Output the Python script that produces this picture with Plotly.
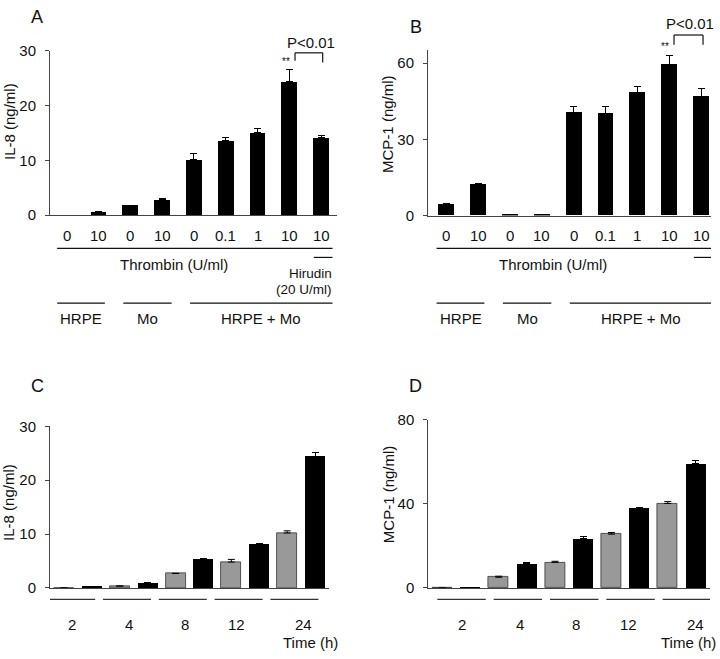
import plotly.graph_objects as go

W, H = 720, 659
FONT = "Liberation Sans, Arial, sans-serif"
INK = "#111111"
AX = "#444444"

# ---------------- data ----------------
thrombin_labels = ["0", "10", "0", "10", "0", "0.1", "1", "10", "10"]
group_labels = ["HRPE", "Mo", "HRPE + Mo"]
il8_a = [0, 0.7, 1.85, 2.8, 10.2, 13.55, 15.0, 24.4, 14.15]
il8_a_err = [0, 0, 0, 0.3, 1.05, 0.55, 0.75, 2.1, 0.35]
mcp1_b = [4.6, 12.1, 0.5, 0.5, 40.7, 40.3, 48.3, 59.3, 46.9]
mcp1_b_err = [0.3, 0.5, 0, 0, 2.3, 2.7, 2.5, 3.8, 2.9]

time_labels = ["2", "4", "8", "12", "24"]
il8_c_gray = [0, 0.36, 2.7, 4.8, 10.2]
il8_c_gray_err = [0, 0, 0, 0.5, 0.4]
il8_c_black = [0.15, 0.9, 5.3, 8.1, 24.4]
il8_c_black_err = [0, 0.2, 0.1, 0.2, 0.7]
mcp1_d_gray = [0, 5.1, 12.2, 25.6, 40.2]
mcp1_d_gray_err = [0, 0.5, 0.5, 0.8, 0.9]
mcp1_d_black = [0.46, 11.6, 23.3, 38.0, 59.2]
mcp1_d_black_err = [0, 0.6, 1.3, 0.5, 1.5]


def PX(x):
    return x / W


def PY(y):
    return 1 - y / H


fig = go.Figure()


def err(arr):
    return dict(type="data", symmetric=False, array=arr, arrayminus=[0] * len(arr),
                color="black", thickness=1, width=3.5)


# Panels A / B
idx9 = list(range(len(thrombin_labels)))
fig.add_trace(go.Bar(x=idx9, y=il8_a, error_y=err(il8_a_err), width=0.5,
                     marker=dict(color="black", line=dict(width=0)),
                     xaxis="x", yaxis="y", showlegend=False))
fig.add_trace(go.Bar(x=idx9, y=mcp1_b, error_y=err(mcp1_b_err), width=0.5,
                     marker=dict(color="black", line=dict(width=0)),
                     xaxis="x2", yaxis="y2", showlegend=False))

# Panels C / D
gx = [2 * i for i in range(len(time_labels))]
bx = [2 * i + 1 for i in range(len(time_labels))]
GRAY = "#999999"
fig.add_trace(go.Bar(x=gx, y=il8_c_gray, error_y=err(il8_c_gray_err), width=0.72,
                     marker=dict(color=GRAY, line=dict(color="#333333", width=0.8)),
                     xaxis="x3", yaxis="y3", showlegend=False))
fig.add_trace(go.Bar(x=bx, y=il8_c_black, error_y=err(il8_c_black_err), width=0.72,
                     marker=dict(color="black", line=dict(width=0)),
                     xaxis="x3", yaxis="y3", showlegend=False))
fig.add_trace(go.Bar(x=gx, y=mcp1_d_gray, error_y=err(mcp1_d_gray_err), width=0.71,
                     marker=dict(color=GRAY, line=dict(color="#333333", width=0.8)),
                     xaxis="x4", yaxis="y4", showlegend=False))
fig.add_trace(go.Bar(x=bx, y=mcp1_d_black, error_y=err(mcp1_d_black_err), width=0.71,
                     marker=dict(color="black", line=dict(width=0)),
                     xaxis="x4", yaxis="y4", showlegend=False))


def xax(dom, rng, anchor):
    return dict(domain=[PX(dom[0]), PX(dom[1])], range=rng, anchor=anchor,
                showline=True, linecolor=AX, linewidth=1, showgrid=False,
                zeroline=False, ticks="", showticklabels=False, fixedrange=True)


def yax(dom, rng, dtick, anchor):
    return dict(domain=[PY(dom[0]), PY(dom[1])], range=rng, anchor=anchor,
                showline=True, linecolor=AX, linewidth=1, showgrid=False,
                zeroline=False, ticks="outside", ticklen=4, tickcolor=AX,
                dtick=dtick, tick0=0, ticklabelstandoff=6,
                tickfont=dict(family=FONT, size=15, color=INK), fixedrange=True)


fig.update_layout(
    width=W, height=H, margin=dict(l=0, r=0, t=0, b=0),
    paper_bgcolor="white", plot_bgcolor="white", bargap=0,
    xaxis=xax([50, 337], [-0.525, 8.5], "y"),
    yaxis=yax([211.7, 42.7], [0, 30], 10, "x"),
    xaxis2=xax([428, 711], [-0.57, 8.31], "y2"),
    yaxis2=yax([212, 42.4], [0, 65], 30, "x2"),
    xaxis3=xax([50, 329], [-0.5, 9.5], "y3"),
    yaxis3=yax([594.3, 428.3], [0, 30], 10, "x3"),
    xaxis4=xax([428.3, 710], [-0.5, 9.5], "y4"),
    yaxis4=yax([594.3, 421.7], [0, 80], 40, "x4"),
)

ann = []
shapes = []


def text(x, y, s, size=15, xref="paper", xanchor="center", angle=0):
    ann.append(dict(x=x, y=PY(y), xref=xref, yref="paper", text=s, showarrow=False,
                    xanchor=xanchor, yanchor="middle", textangle=angle,
                    font=dict(family=FONT, size=size, color=INK)))


def hline(x0, x1, y, xref="paper", color=INK, width=1.2):
    shapes.append(dict(type="line", xref=xref, yref="paper", x0=x0, x1=x1,
                       y0=PY(y), y1=PY(y), line=dict(color=color, width=width)))


def vline(x, y0, y1, xref="paper"):
    shapes.append(dict(type="line", xref=xref, yref="paper", x0=x, x1=x,
                       y0=PY(y0), y1=PY(y1), line=dict(color=INK, width=1.2)))


# Panels A and B: labels below the axis
group_spans = [(-0.3, 1.2), (1.78, 3.3), (3.88, 8.36)]
for xr in ["x", "x2"]:
    for i, lab in enumerate(thrombin_labels):
        text(i, 233, lab, 15, xref=xr)
    hline(-0.3, 8.36, 245.7, xref=xr)
    text(3.36, 262, "Thrombin (U/ml)", 15, xref=xr)
    hline(7.77, 8.36, 255, xref=xr)
    text(8.42, 272, "Hirudin", 13.5, xref=xr, xanchor="right")
    text(8.42, 288, "(20 U/ml)", 13.5, xref=xr, xanchor="right")
    for (a, b), lab in zip(group_spans, group_labels):
        hline(a, b, 302, xref=xr)
        text((a + b) / 2, 318, lab, 15, xref=xr)

# significance brackets
for xr, (xl, xrt), yb, yl, yr, ptxt, star in [
        ("x", (7.18, 8.05), 45, 53, 55, (7.68, 34), (286, 54)),
        ("x2", (7.15, 8.06), 26.7, 36.7, 36.7, (7.66, 15), (665, 38))]:
    hline(xl, xrt, yb, xref=xr)
    vline(xl, yb, yl, xref=xr)
    vline(xrt, yb, yr, xref=xr)
    text(ptxt[0], ptxt[1], "P<0.01", 15, xref=xr)
    text(PX(star[0]), star[1], "**", 10)

# Panels C and D: time groups
label_off = [0.88, 0.92, 0.93, 0.77, 1.18]
for xr, shift, tx in [("x3", -0.6, 340), ("x4", -0.18, 718)]:
    for g, lab in enumerate(time_labels):
        s = 2 * g + shift
        hline(s, s + 1.72, 606, xref=xr, color="#333333", width=1.2)
        text(s + label_off[g], 631.7, lab, 15, xref=xr)
    text(PX(tx), 650, "Time (h)", 15, xanchor="right")

# panel letters
for s, x, y in [("A", 37, 8), ("B", 416, 18), ("C", 37, 387), ("D", 416, 387)]:
    text(PX(x), y, s, 18)

# y titles
text(PX(9), 116, "IL-8 (ng/ml)", 15, angle=-90)
text(PX(388), 118, "MCP-1 (ng/ml)", 15, angle=-90)
text(PX(9), 507, "IL-8 (ng/ml)", 15, angle=-90)
text(PX(388), 498, "MCP-1 (ng/ml)", 15, angle=-90)

fig.update_layout(annotations=ann, shapes=shapes)
fig.write_html("out.html", config={"displayModeBar": False},
               post_script="document.body.style.margin='0';document.body.style.overflow='hidden';")
